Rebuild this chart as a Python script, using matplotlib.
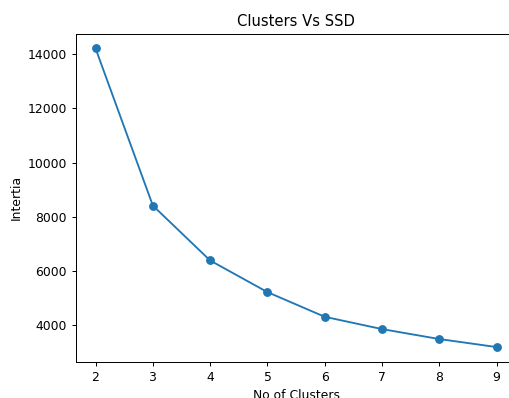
import matplotlib

matplotlib.use("Agg")

import matplotlib.pyplot as plt  # noqa: E402

# values
n_clusters = [2, 3, 4, 5, 6, 7, 8, 9]
ssd = [14206, 8416, 6394, 5229, 4320, 3867, 3500, 3205]

SCALE = 0.889  # reference looks like a downscaled 100-dpi default figure
plt.rcParams.update({
    "font.size": 10 * SCALE,
    "axes.linewidth": 0.8 * SCALE,
    "xtick.major.width": 0.8 * SCALE,
    "ytick.major.width": 0.8 * SCALE,
    "xtick.major.size": 3.5 * SCALE,
    "ytick.major.size": 3.5 * SCALE,
    "xtick.major.pad": 3.5 * SCALE,
    "ytick.major.pad": 3.5 * SCALE,
})

fig = plt.figure(figsize=(5.09, 3.98), dpi=100)
# axes runs past the right edge: the reference is cropped there
ax = fig.add_axes((75.5 / 509, 36 / 398, 441.2 / 509, 328.5 / 398))
ax.plot(n_clusters, ssd, marker="o", lw=1.5 * SCALE, ms=6 * SCALE)
ax.set_title("Clusters Vs SSD", fontsize=12 * SCALE, pad=6 * SCALE)
ax.set_xlabel("No of Clusters", labelpad=4 * SCALE)
ax.set_ylabel("Intertia", labelpad=4 * SCALE)

fig.savefig("out.png", dpi=100)
